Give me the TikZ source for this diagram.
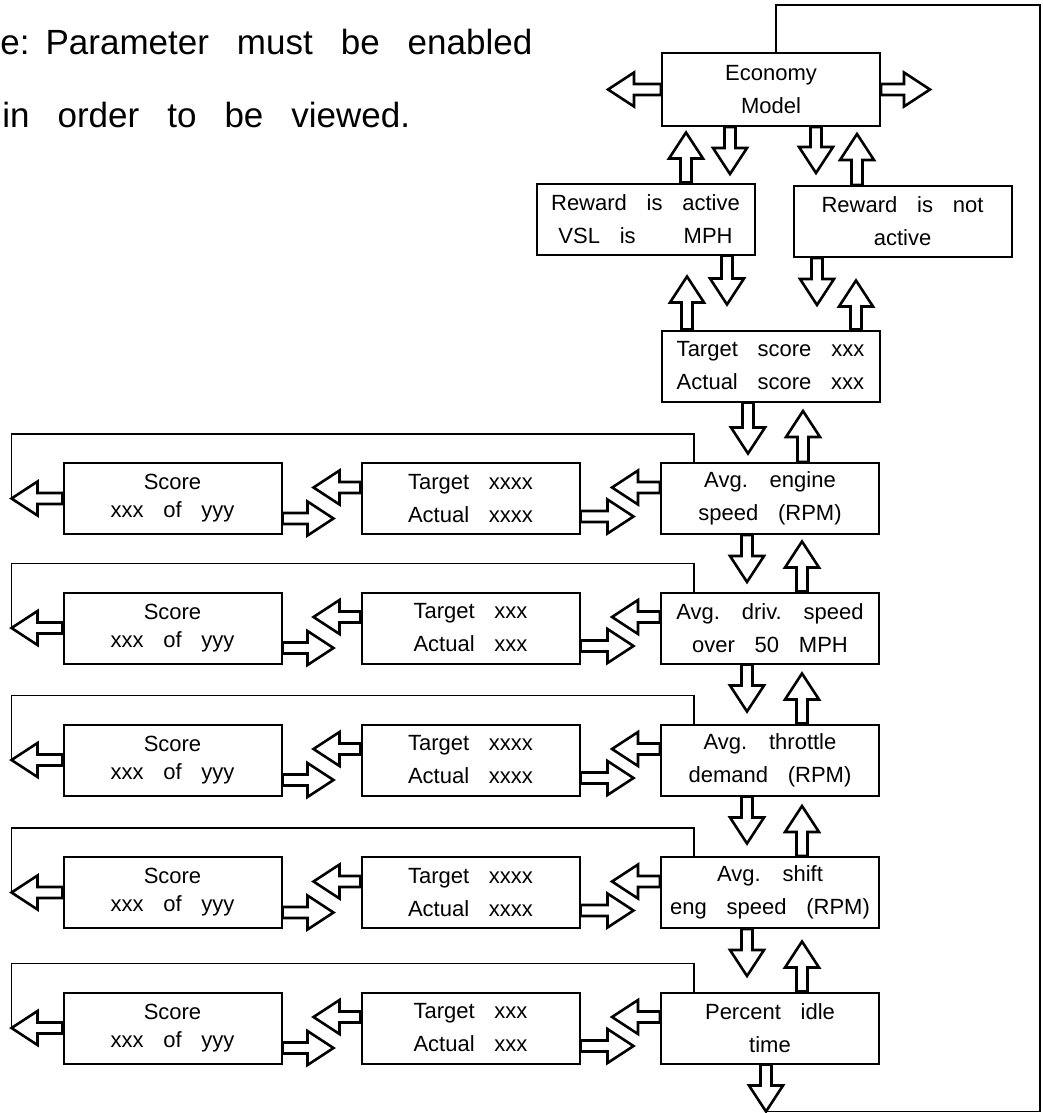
\documentclass[tikz,border=0pt]{standalone}
\usepackage{fontspec}
\setmainfont{Liberation Sans}
\usetikzlibrary{calc}

\newcommand{\panelfont}{\fontsize{11}{16.5}\selectfont\spaceskip 0.9em\relax}
\newcommand{\notefont}{\fontsize{17.5}{22}\selectfont\spaceskip 0.8em\relax}

\tikzset{
  panel/.style={draw, line width=1pt, minimum width=109pt, minimum height=35.5pt,
    inner sep=0pt, align=center, font=\panelfont},
  header/.style={inner sep=0pt, anchor=base west, font=\notefont},
  hollow/.style={draw, line width=1.3pt, line join=miter, fill=white},
  feed/.style={line width=0.8pt}
}

% block arrow: tail point, direction, length
\newcommand{\blockarrow}[3]{%
  \draw[hollow, shift={#1}, rotate=#2] (0,-5.5) -- (#3-26,-5.5) -- (#3-26,-17) -- (#3,0)
    -- (#3-26,17) -- (#3-26,5.5) -- (0,5.5) -- cycle;}

\begin{document}
\begin{tikzpicture}[x=0.5pt,y=-0.5pt]
\useasboundingbox (0,0) rectangle (1043,1113);

\node[header] (note1) at (0,55) {e:\hspace{8pt}Parameter must be enabled};
\node[header] (note2) at (2,127) {in order to be viewed.};

\node[panel, minimum height=36.5pt] (econ) at (771,89.5) {Economy\\Model};
\node[panel] (rwon) at (645.5,219) {Reward is active\\VSL is\hspace{24pt}MPH};
\node[panel] (rwoff) at (902.5,221.5) {Reward is not\\active};
\node[panel] (tscore) at (770.5,366) {Target score xxx\\Actual score xxx};

\node[panel] (par1) at (770,498.5) {Avg. engine\\speed (RPM)};
\node[panel] (par2) at (770,628) {Avg. driv. speed\\over 50 MPH};
\node[panel] (par3) at (770,760) {Avg. throttle\\demand (RPM)};
\node[panel] (par4) at (770,892.5) {Avg. shift\\eng speed (RPM)};
\node[panel] (par5) at (770,1028) {Percent idle\\time};

\node[panel] (tgt1) at (470.5,498.5) {Target xxxx\\Actual xxxx};
\node[panel] (tgt2) at (470.5,628) {Target xxx\\Actual xxx};
\node[panel] (tgt3) at (470.5,760) {Target xxxx\\Actual xxxx};
\node[panel] (tgt4) at (470.5,892.5) {Target xxxx\\Actual xxxx};
\node[panel] (tgt5) at (470.5,1028) {Target xxx\\Actual xxx};

\node[panel] (scr1) at (172.5,498.5) {Score\\[-2.5pt]xxx of yyy};
\node[panel] (scr2) at (172.5,628) {Score\\[-2.5pt]xxx of yyy};
\node[panel] (scr3) at (172.5,760) {Score\\[-2.5pt]xxx of yyy};
\node[panel] (scr4) at (172.5,892.5) {Score\\[-2.5pt]xxx of yyy};
\node[panel] (scr5) at (172.5,1028) {Score\\[-2.5pt]xxx of yyy};

% top part
\blockarrow{(econ.west)}{180}{53}
\blockarrow{(econ.east)}{0}{49}
\blockarrow{($(econ.south)+(-41,0)$)}{270}{47}
\blockarrow{($(rwon.north)+(40.5,0)$)}{90}{50}
\blockarrow{($(econ.south)+(45,0)$)}{270}{46}
\blockarrow{($(rwoff.north)+(-45.5,0)$)}{90}{51}
\blockarrow{($(rwon.south)+(81.5,0)$)}{270}{49}
\blockarrow{($(tscore.north)+(-83.5,0)$)}{90}{53}
\blockarrow{($(rwoff.south)+(-85.5,0)$)}{270}{47}
\blockarrow{($(tscore.north)+(85.5,0)$)}{90}{49}
\blockarrow{($(tscore.south)+(-22.5,0)$)}{270}{51}
\blockarrow{($(par1.north)+(33,0)$)}{90}{51}

% parameter column
\foreach \i/\j in {1/2,2/3,3/4,4/5}{
  \blockarrow{($(par\i.south)+(-23,0)$)}{270}{47}
  \blockarrow{($(par\j.north)+(32,0)$)}{90}{50}
}

% rows
\foreach \i in {1,...,5}{
  \coordinate (out\i) at ($(scr\i.west)+(-51,0)$);
  \draw[feed] ($(par\i.north)+(-76,0)$) -- ++(0,-28) -| (out\i);
  \blockarrow{($(par\i.west)+(0,-11)$)}{180}{48}
  \blockarrow{($(tgt\i.east)+(0,18)$)}{0}{53}
  \blockarrow{($(tgt\i.west)+(0,-11)$)}{180}{47}
  \blockarrow{($(scr\i.east)+(0,20)$)}{0}{51}
  \blockarrow{(scr\i.west)}{180}{51}
}

% back to the top
\coordinate (back) at ($(par5.south)+(-4,47)$);
\draw[feed] ($(econ.north)+(5,0)$) |- (1040,5) |- (back);
\blockarrow{($(par5.south)+(-4,0)$)}{270}{47}

\end{tikzpicture}
\end{document}
